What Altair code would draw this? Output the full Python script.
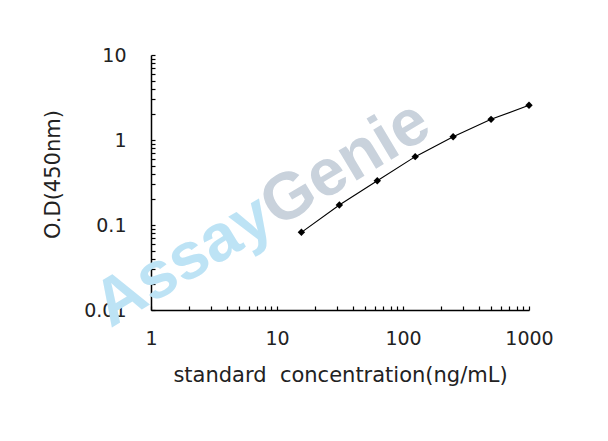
import altair as alt
import pandas as pd

conc = [15.625, 31.25, 62.5, 125, 250, 500, 1000]
od = [0.082, 0.172, 0.332, 0.637, 1.09, 1.75, 2.56]

x_ticks = [1, 2, 3, 4, 5, 6, 7, 8, 9, 10, 20, 30, 40, 50, 60, 70, 80, 90,
           100, 200, 300, 400, 500, 600, 700, 800, 900, 1000]
y_ticks = [0.01, 0.02, 0.03, 0.04, 0.05, 0.06, 0.07, 0.08, 0.09,
           0.1, 0.2, 0.3, 0.4, 0.5, 0.6, 0.7, 0.8, 0.9,
           1, 2, 3, 4, 5, 6, 7, 8, 9, 10]

x_title = "standard\u00a0 concentration(ng/mL)"
y_title = "O.D(450nm)"

df = pd.DataFrame({"conc": conc, "od": od})

W, H = 378, 255
FONT = "DejaVu Sans"
TXT = "#222222"

xs = alt.Scale(type="log", domain=[1, 1000], nice=False)
ys = alt.Scale(type="log", domain=[0.01, 10], nice=False)

x_lab_expr = "indexof([1,10,100,1000], datum.value) >= 0 ? format(datum.value, '~g') : ''"
y_lab_expr = "indexof([0.01,0.1,1,10], datum.value) >= 0 ? format(datum.value, '~g') : ''"

wm_a = alt.Chart(pd.DataFrame({"a": [0]})).mark_text(
    text="Assay", font="Liberation Sans", fontWeight="bold", fontSize=66,
    angle=329, align="right", baseline="middle", color="#bde3f5"
).encode(x=alt.value(116), y=alt.value(156))

wm_g = alt.Chart(pd.DataFrame({"a": [0]})).mark_text(
    text="Genie", font="Liberation Sans", fontWeight="bold", fontSize=66,
    angle=329, align="left", baseline="middle", color="#c9d2dc"
).encode(x=alt.value(116), y=alt.value(156))

line = alt.Chart(df).mark_line(color="black", strokeWidth=1.1).encode(
    x=alt.X("conc:Q", scale=xs, title=x_title,
            axis=alt.Axis(orient="bottom", values=x_ticks, labelExpr=x_lab_expr,
                          ticks=False, grid=False, domainColor="black", domainWidth=1.5,
                          labelFont=FONT, labelFontSize=19, labelColor=TXT, labelPadding=19,
                          titleFont=FONT, titleFontSize=21, titleFontWeight="normal",
                          titleColor=TXT, titlePadding=16, labelOverlap=False,
                          labelFlush=False)),
    y=alt.Y("od:Q", scale=ys, title=y_title,
            axis=alt.Axis(orient="left", values=y_ticks, labelExpr=y_lab_expr,
                          ticks=False, grid=False, domainColor="black", domainWidth=1.5,
                          labelFont=FONT, labelFontSize=19, labelColor=TXT, labelPadding=25,
                          titleFont=FONT, titleFontSize=21, titleFontWeight="normal",
                          titleColor=TXT, titlePadding=20, titleY=119,
                          labelOverlap=False, labelFlush=False)),
)

pts = alt.Chart(df).mark_point(shape="diamond", filled=True, color="black",
                               size=55, opacity=1).encode(
    x=alt.X("conc:Q", scale=xs, axis=None),
    y=alt.Y("od:Q", scale=ys, axis=None),
)

tick_layer = alt.Chart(df).mark_point(opacity=0).encode(
    x=alt.X("conc:Q", scale=xs, title=None,
            axis=alt.Axis(orient="top", offset=-H, values=x_ticks, labels=False,
                          domain=False, grid=False, ticks=True, tickSize=4,
                          tickColor="black", tickWidth=1.2)),
    y=alt.Y("od:Q", scale=ys, title=None,
            axis=alt.Axis(orient="right", offset=-W, values=y_ticks, labels=False,
                          domain=False, grid=False, ticks=True, tickSize=4,
                          tickColor="black", tickWidth=1.2)),
)

chart = alt.layer(wm_a, wm_g, line, pts, tick_layer).resolve_axis(
    x="independent", y="independent"
).properties(
    width=W, height=H,
    autosize=alt.AutoSizeParams(type="none"),
    padding={"left": 143, "top": 47, "right": 60, "bottom": 110},
    background="white",
).configure_view(stroke=None)

chart.save("out.html", embed_options={"renderer": "svg", "actions": False})
